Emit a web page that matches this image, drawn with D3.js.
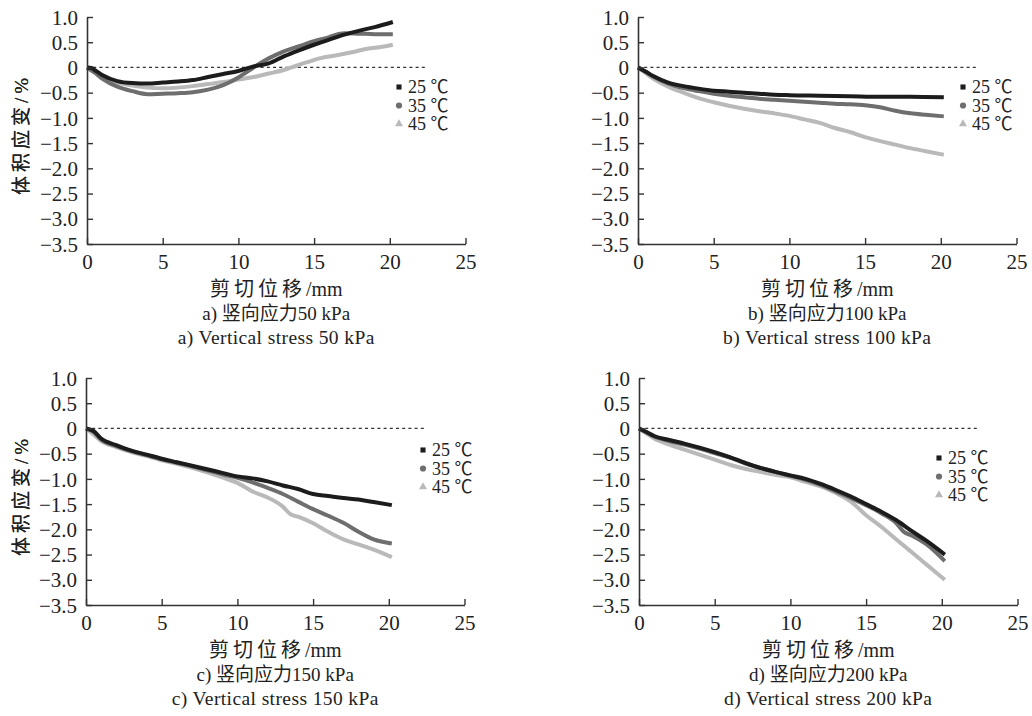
<!DOCTYPE html>
<html><head><meta charset="utf-8">
<script src="https://cdn.jsdelivr.net/npm/d3@7"></script>
<style>
body{margin:0;background:#fff;}
svg text{font-family:"Liberation Serif","Noto Sans CJK SC",serif;fill:#222;}
</style></head>
<body><svg id="c" width="1032" height="716"></svg>
<script>
const xTicks=[0,5,10,15,20,25];
const yTicks=[1.0,0.5,0,-0.5,-1.0,-1.5,-2.0,-2.5,-3.0,-3.5];
const seriesNames=["25 ℃","35 ℃","45 ℃"];
const xLabelCN="剪切位移";
const xLabelUnit="/mm";
const yLabel="体积应变/%";
const captionsCN=["a) 竖向应力50 kPa","b) 竖向应力100 kPa","c) 竖向应力150 kPa","d) 竖向应力200 kPa"];
const captionsEN=["a) Vertical stress 50 kPa","b) Vertical stress 100 kPa","c) Vertical stress 150 kPa","d) Vertical stress 200 kPa"];

// panel a (50 kPa)
const a25=[[0,0],[0.3,-0.01],[0.5,-0.05],[1,-0.15],[2,-0.27],[3,-0.31],[4,-0.32],[5,-0.3],[6,-0.28],[7,-0.25],[8,-0.19],[9,-0.13],[10,-0.07],[11,0.02],[12,0.08],[13,0.22],[14,0.34],[15,0.45],[16,0.55],[17,0.65],[18,0.73],[19,0.8],[20.2,0.9]];
const a35=[[0,0],[0.5,-0.1],[1,-0.22],[2,-0.38],[3,-0.47],[4,-0.53],[5,-0.52],[6,-0.51],[7,-0.49],[8,-0.44],[9,-0.35],[10,-0.2],[10.5,-0.1],[11,0.0],[12,0.18],[13,0.32],[14,0.42],[15,0.52],[16,0.6],[16.7,0.67],[17,0.68],[18,0.67],[19,0.66],[20.2,0.66]];
const a45=[[0,0],[0.5,-0.1],[1,-0.2],[2,-0.3],[3,-0.36],[4,-0.4],[5,-0.41],[6,-0.4],[7,-0.37],[8,-0.33],[9,-0.29],[10,-0.24],[11,-0.19],[12,-0.12],[13,-0.05],[13.5,0.0],[14.5,0.1],[15.5,0.19],[16.5,0.24],[17.5,0.3],[18.5,0.37],[19.5,0.41],[20.2,0.45]];
// panel b (100 kPa)
const b25=[[0,0],[0.5,-0.08],[1,-0.17],[2,-0.3],[3,-0.37],[4,-0.42],[5,-0.46],[6,-0.48],[7,-0.5],[8,-0.52],[9,-0.54],[10,-0.55],[12,-0.56],[14,-0.57],[16,-0.58],[18,-0.58],[20.2,-0.59]];
const b35=[[0,0],[0.5,-0.09],[1,-0.18],[2,-0.32],[3,-0.41],[4,-0.47],[5,-0.52],[6,-0.56],[7,-0.59],[8,-0.62],[9,-0.64],[10,-0.66],[11,-0.68],[12,-0.7],[13,-0.72],[14,-0.73],[15,-0.75],[16,-0.79],[17,-0.86],[18,-0.91],[19,-0.94],[20.2,-0.97]];
const b45=[[0,0],[0.5,-0.11],[1,-0.22],[2,-0.38],[3,-0.5],[4,-0.61],[5,-0.69],[6,-0.76],[7,-0.82],[8,-0.87],[9,-0.91],[10,-0.96],[11,-1.03],[12,-1.1],[13,-1.2],[14,-1.28],[15,-1.38],[16,-1.46],[17,-1.53],[18,-1.6],[19,-1.66],[20.2,-1.73]];
// panel c (150 kPa)
const c25=[[0,0],[0.5,-0.05],[1,-0.2],[2,-0.33],[3,-0.44],[4,-0.52],[5,-0.6],[6,-0.67],[7,-0.74],[8,-0.81],[9,-0.88],[10,-0.95],[11,-0.99],[12,-1.05],[13,-1.13],[14,-1.2],[15,-1.3],[16,-1.34],[17,-1.38],[18,-1.41],[19,-1.46],[20.2,-1.52]];
const c35=[[0,0],[0.5,-0.07],[1,-0.22],[2,-0.35],[3,-0.45],[4,-0.53],[5,-0.61],[6,-0.68],[7,-0.75],[8,-0.83],[9,-0.91],[10,-0.98],[11,-1.07],[12,-1.18],[13,-1.3],[14,-1.45],[15,-1.6],[16,-1.73],[17,-1.87],[18,-2.05],[19,-2.2],[20.2,-2.28]];
const c45=[[0,0],[0.5,-0.12],[1,-0.25],[2,-0.37],[3,-0.47],[4,-0.55],[5,-0.63],[6,-0.7],[7,-0.78],[8,-0.87],[9,-0.97],[10,-1.08],[11,-1.25],[12,-1.37],[13,-1.55],[13.5,-1.7],[14,-1.75],[15,-1.88],[16,-2.05],[17,-2.2],[18,-2.3],[19,-2.4],[20.2,-2.55]];
// panel d (200 kPa)
const d25=[[0,0],[0.5,-0.07],[1,-0.15],[2,-0.23],[3,-0.3],[4,-0.38],[5,-0.47],[6,-0.57],[7,-0.68],[8,-0.78],[9,-0.86],[10,-0.93],[11,-1.0],[12,-1.1],[13,-1.22],[14,-1.35],[15,-1.5],[16,-1.65],[17,-1.82],[18,-2.03],[19,-2.23],[20.2,-2.5]];
const d35=[[0,0],[0.5,-0.08],[1,-0.16],[2,-0.25],[3,-0.32],[4,-0.4],[5,-0.49],[6,-0.58],[7,-0.69],[8,-0.78],[9,-0.86],[10,-0.94],[11,-1.02],[12,-1.12],[13,-1.25],[14,-1.38],[15,-1.52],[16,-1.68],[17,-1.88],[17.5,-2.05],[18,-2.12],[19,-2.3],[20.2,-2.63]];
const d45=[[0,0],[0.5,-0.1],[1,-0.2],[2,-0.32],[3,-0.42],[4,-0.52],[5,-0.62],[6,-0.72],[7,-0.8],[8,-0.86],[9,-0.92],[10,-0.97],[11,-1.06],[12,-1.15],[13,-1.28],[14,-1.45],[15,-1.72],[16,-1.95],[17,-2.2],[18,-2.45],[19,-2.7],[20.2,-3.0]];

const panelData=[[a25,a35,a45],[b25,b35,b45],[c25,c35,c45],[d25,d35,d45]];
const colors=["#1c1c1c","#6e6e6e","#b9b9b9"];
const layout=[
 {left:87,top:17,legX:399,legY:87},
 {left:638,top:17,legX:963,legY:87},
 {left:86,top:378,legX:423,legY:450},
 {left:639,top:378,legX:939,legY:458}
];
const W=378.5,H=227;
const svg=d3.select("#c");
const fmtY=d=>d===0?"0":d3.format(".1f")(d).replace("-","−");

panelData.forEach((series,i)=>{
  const L=layout[i];
  const g=svg.append("g").attr("transform",`translate(${L.left},${L.top})`);
  const x=d3.scaleLinear().domain([0,25]).range([0,W]);
  const y=d3.scaleLinear().domain([-3.5,1.0]).range([H,0]);
  g.append("line").attr("x1",x(0)).attr("x2",x(22.5)).attr("y1",y(0)).attr("y2",y(0))
    .attr("stroke","#333").attr("stroke-width",1.3).attr("stroke-dasharray","3,3.2");
  const line=d3.line().x(d=>x(d[0])).y(d=>y(d[1])).curve(d3.curveMonotoneX);
  [2,1,0].forEach(k=>{
    g.append("path").datum(series[k]).attr("d",line).attr("fill","none")
      .attr("stroke",colors[k]).attr("stroke-width",4).attr("stroke-linejoin","round");
  });
  const xa=g.append("g").attr("transform",`translate(0,${H})`)
    .call(d3.axisBottom(x).tickValues(xTicks).tickSizeInner(-6).tickSizeOuter(0).tickPadding(10));
  const ya=g.append("g").call(d3.axisLeft(y).tickValues(yTicks).tickSizeInner(-6).tickSizeOuter(0).tickPadding(9).tickFormat(fmtY));
  [xa,ya].forEach(a=>{
    a.select(".domain").attr("stroke","#333").attr("stroke-width",1.6);
    a.selectAll(".tick line").attr("stroke","#333").attr("stroke-width",1.4);
    a.selectAll("text").attr("font-size",21).attr("fill","#222").style("font-family","Liberation Serif");
  });
  xa.selectAll("text").attr("dy","0.72em");
  ya.selectAll("text").attr("dy","0.34em");
  const xt=g.append("text").attr("x",W/2).attr("y",H+52).attr("text-anchor","middle").attr("font-size",20);
  xt.append("tspan").attr("letter-spacing",4).style("font-family","Noto Sans CJK SC").text(xLabelCN);
  xt.append("tspan").text(xLabelUnit);
  g.append("text").attr("transform",`translate(${-L.left+28},${H/2+4}) rotate(-90)`)
    .attr("text-anchor","middle").attr("font-size",19).attr("letter-spacing",4).text(yLabel);
  g.append("text").attr("x",W/2).attr("y",H+76).attr("text-anchor","middle")
    .attr("font-size",19).text(captionsCN[i]);
  g.append("text").attr("x",W/2).attr("y",H+100).attr("text-anchor","middle")
    .attr("font-size",19.5).attr("letter-spacing",0.4).text(captionsEN[i]);
  const lg=svg.append("g").attr("transform",`translate(${L.legX},${L.legY})`);
  seriesNames.forEach((n,k)=>{
    const row=lg.append("g").attr("transform",`translate(0,${k*18.5})`);
    const sym=[d3.symbolSquare,d3.symbolCircle,d3.symbolTriangle][k];
    row.append("path").attr("d",d3.symbol().type(sym).size([26,30,28][k])())
      .attr("fill",colors[k]);
    row.append("text").attr("x",9).attr("y",0).attr("dy","0.35em")
      .attr("font-size",18).text(n);
  });
});
</script></body></html>
